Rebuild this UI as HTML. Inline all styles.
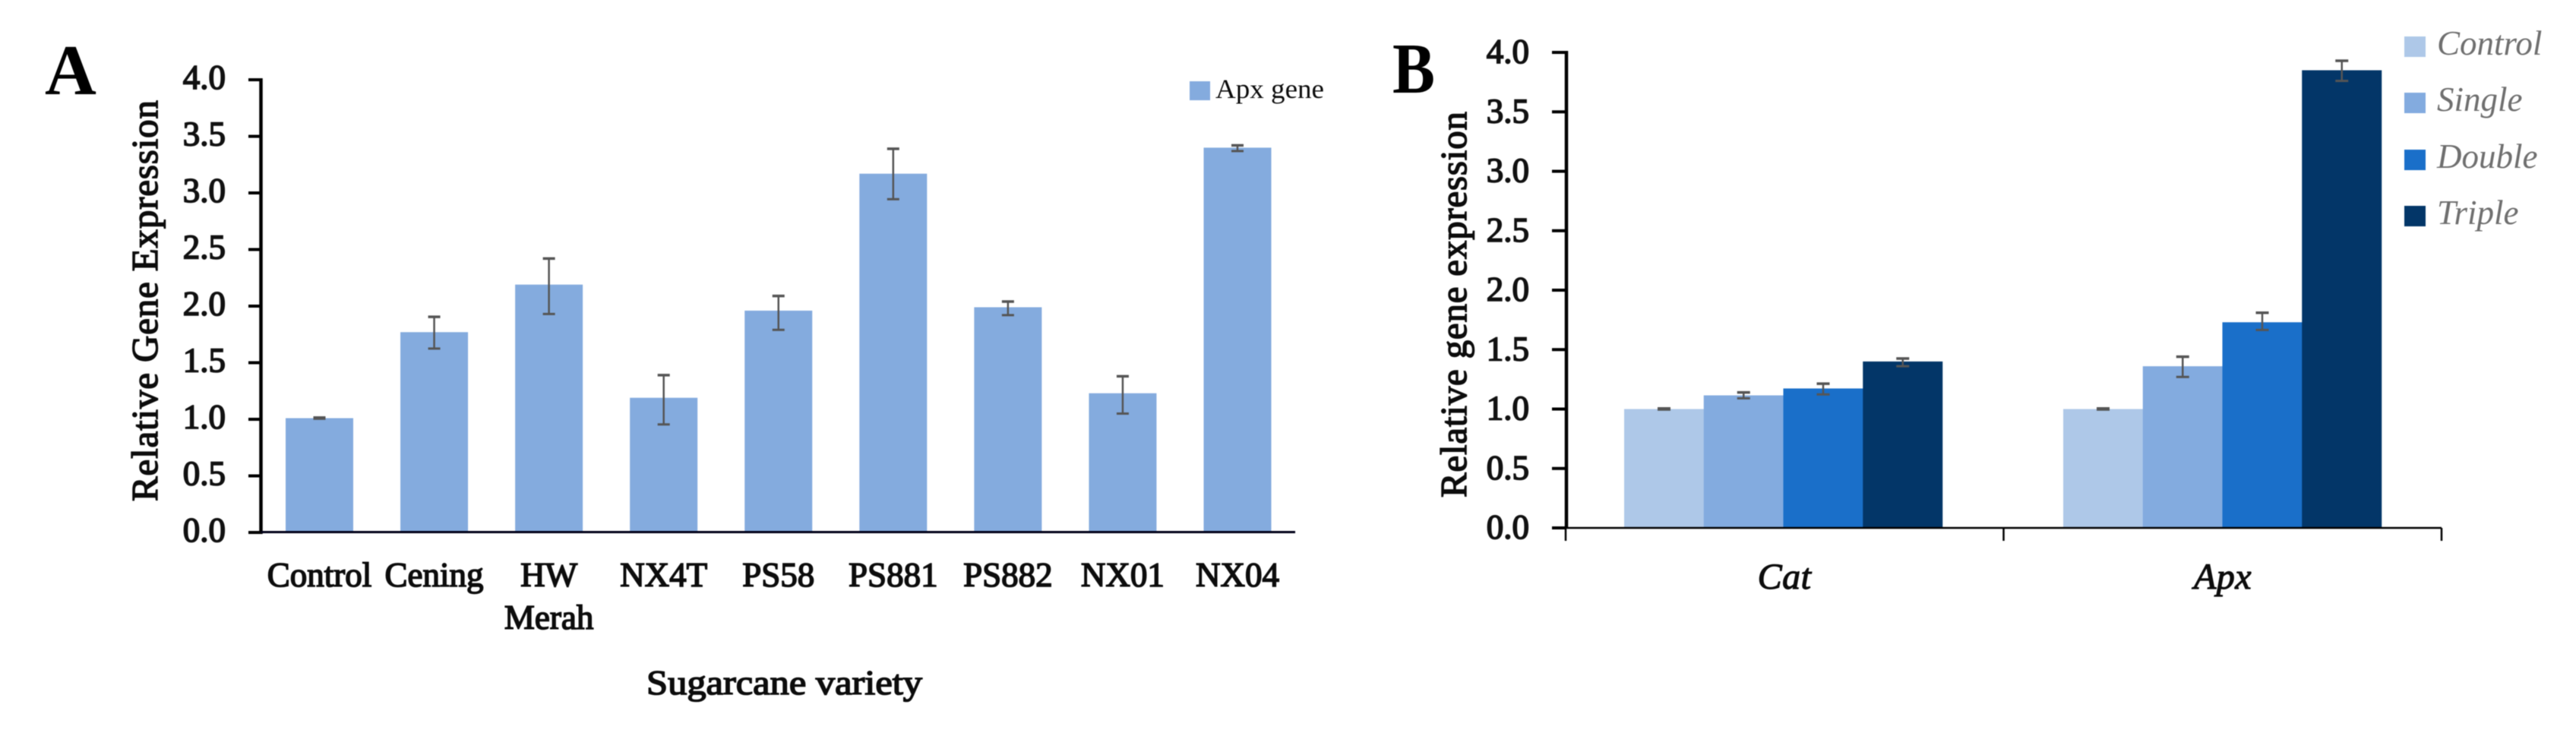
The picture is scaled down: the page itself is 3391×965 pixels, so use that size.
<!DOCTYPE html>
<html lang="en">
<head>
<meta charset="utf-8">
<title>Relative gene expression charts</title>
<style>
html,body{margin:0;padding:0;background:#fff;}
body{width:3391px;height:965px;overflow:hidden;}
svg{display:block;position:absolute;left:0;top:0;filter:blur(0.6px);}
text{font-family:"Liberation Serif",serif;fill:#0c0c0c;}
.tick{font-size:45px;text-anchor:end;fill:#111;stroke:#111;stroke-width:1.7px;}
.cat{font-size:45px;text-anchor:middle;stroke:#0c0c0c;stroke-width:1.6px;}
.xname{font-size:46px;stroke:#0c0c0c;stroke-width:1.6px;}
.title{font-size:49px;stroke:#0c0c0c;stroke-width:1.5px;}
.letter{font-size:94px;font-weight:bold;fill:#000;}
.leg-b{font-size:45px;font-style:italic;fill:#6f6f6f;}
.gene{font-size:48px;font-style:italic;text-anchor:middle;letter-spacing:0.5px;stroke:#0c0c0c;stroke-width:1.2px;}
</style>
</head>
<body>
<svg id="chart" xmlns="http://www.w3.org/2000/svg" width="3391" height="965" viewBox="0 0 3391 965">
  <rect x="0" y="0" width="3391" height="965" fill="#ffffff"/>
  <g id="panel-a">
    <text class="letter" x="59" y="124">A</text>
    <text class="title" transform="translate(207 660) rotate(-90)" textLength="528" lengthAdjust="spacing">Relative Gene Expression</text>
    <text class="xname" x="851" y="914" textLength="363" lengthAdjust="spacingAndGlyphs">Sugarcane variety</text>
    <rect x="1566" y="107" width="27" height="25" fill="#84abde"/>
    <text x="1600" y="129" font-size="36" fill="#222" textLength="143" lengthAdjust="spacingAndGlyphs">Apx gene</text>
  </g>
  <g id="panel-b">
    <text class="letter" x="1833" y="122" textLength="56" lengthAdjust="spacingAndGlyphs">B</text>
    <text class="title" transform="translate(1930 655) rotate(-90)" textLength="508" lengthAdjust="spacing">Relative gene expression</text>
  </g>
</svg>
<script>
// Panel A data
const varieties = ['Control', 'Cening', 'HW|Merah', 'NX4T', 'PS58', 'PS881', 'PS882', 'NX01', 'NX04'];
const apxValues = [1.01, 1.77, 2.19, 1.19, 1.96, 3.17, 1.99, 1.23, 3.40];
const apxErrPlus = [0.005, 0.135, 0.23, 0.20, 0.13, 0.22, 0.05, 0.15, 0.02];
const apxErrMinus = [0.005, 0.145, 0.26, 0.235, 0.17, 0.225, 0.07, 0.18, 0.03];
const yTickValues = [0, 0.5, 1, 1.5, 2, 2.5, 3, 3.5, 4];
const yTickLabels = ['0.0', '0.5', '1.0', '1.5', '2.0', '2.5', '3.0', '3.5', '4.0'];

// Panel B data
const genes = ['Cat', 'Apx'];
const treatments = ['Control', 'Single', 'Double', 'Triple'];
const controlValues = [1.00, 1.00];
const singleValues = [1.115, 1.36];
const doubleValues = [1.173, 1.73];
const tripleValues = [1.40, 3.85];
const controlErrPlus = [0.005, 0.005];
const singleErrPlus = [0.025, 0.08];
const doubleErrPlus = [0.04, 0.08];
const tripleErrPlus = [0.025, 0.08];
const controlErrMinus = [0.005, 0.005];
const singleErrMinus = [0.025, 0.09];
const doubleErrMinus = [0.05, 0.065];
const tripleErrMinus = [0.04, 0.09];

const NS = 'http://www.w3.org/2000/svg';
const panelA = document.getElementById('panel-a');
const panelB = document.getElementById('panel-b');

function make(tag, parent, props) {
  const el = document.createElementNS(NS, tag);
  for (const k in props) el.setAttribute(k, props[k]);
  parent.appendChild(el);
  return el;
}

// Axis functions
function yA(v) { return 701 - 149 * v; }
function xA(i) { return 420.5 + 151.06 * i; }
function yB(v) { return 695 - 156.5 * v; }
function xB(group, series) { return 2138 + 578 * group + 104.75 * series; }

const errColor = '#555555';

function drawError(parent, cx, hi, lo, capW, sw, name) {
  const g = make('g', parent, {});
  
  
  make('line', g, { x1: cx, x2: cx, y1: hi, y2: lo, stroke: errColor, 'stroke-width': sw });
  make('line', g, { x1: cx - capW / 2, x2: cx + capW / 2, y1: hi, y2: hi, stroke: errColor, 'stroke-width': 3.5 });
  make('line', g, { x1: cx - capW / 2, x2: cx + capW / 2, y1: lo, y2: lo, stroke: errColor, 'stroke-width': 3 });
}

// Panel A marks
apxValues.forEach(function (v, i) {
  const bar = make('rect', panelA, { x: xA(i) - 44.5, y: yA(v), width: 89, height: yA(0) - yA(v), fill: '#84abde' });
  
  
});
apxValues.forEach(function (v, i) {
  drawError(panelA, xA(i), yA(v + apxErrPlus[i]), yA(v - apxErrMinus[i]), 16, 2.5, 'error-bar-' + varieties[i].replace('|', '-').toLowerCase());
});

const axisAY = make('line', panelA, { x1: 343.5, x2: 343.5, y1: yA(4) - 2, y2: yA(0) + 2, stroke: '#000', 'stroke-width': 4.5 });


const axisAX = make('line', panelA, { x1: 343.5, x2: 1705, y1: yA(0) - 0.5, y2: yA(0) - 0.5, stroke: '#000018', 'stroke-width': 3 });



yTickValues.forEach(function (v, i) {
  const t = make('line', panelA, { x1: 327, x2: 343, y1: yA(v), y2: yA(v), stroke: '#000', 'stroke-width': 4 });
  
  
  const lab = make('text', panelA, { class: 'tick', x: 297, y: yA(v) + 12 });
  
  
  lab.textContent = yTickLabels[i];
});

varieties.forEach(function (name, i) {
  const lines = name.split('|');
  lines.forEach(function (line, j) {
    const lab = make('text', panelA, { class: 'cat', x: xA(i), y: 772 + 56 * j });
    
    
    lab.textContent = line;
  });
});

// Panel B marks
const seriesColors = ['#aec8e8', '#83abdf', '#1a6fc9', '#033668'];
const seriesValues = [controlValues, singleValues, doubleValues, tripleValues];
const seriesPlus = [controlErrPlus, singleErrPlus, doubleErrPlus, tripleErrPlus];
const seriesMinus = [controlErrMinus, singleErrMinus, doubleErrMinus, tripleErrMinus];
const legendRows = [48, 122, 197, 271];

seriesValues.forEach(function (vals, s) {
  vals.forEach(function (v, g) {
    const bar = make('rect', panelB, { x: xB(g, s), y: yB(v), width: 105, height: yB(0) - yB(v), fill: seriesColors[s] });
    
    
  });
});
seriesValues.forEach(function (vals, s) {
  vals.forEach(function (v, g) {
    drawError(panelB, xB(g, s) + 52.5, yB(v + seriesPlus[s][g]), yB(v - seriesMinus[s][g]), 17, 2.5, 'error-bar-' + genes[g].toLowerCase() + '-' + treatments[s].toLowerCase());
  });
});

const axisBY = make('line', panelB, { x1: 2062, x2: 2062, y1: yB(4) - 2, y2: yB(0) + 1, stroke: '#000', 'stroke-width': 4.5 });


const axisBX = make('line', panelB, { x1: 2060, x2: 3214, y1: yB(0), y2: yB(0), stroke: '#000', 'stroke-width': 2.5 });



[0, 1, 2].forEach(function (k) {
  const x = 2061 + 576.5 * k;
  const t = make('line', panelB, { x1: x, x2: x, y1: yB(0), y2: yB(0) + 17, stroke: '#000', 'stroke-width': 2.5 });
  
  
});

yTickValues.forEach(function (v, i) {
  const t = make('line', panelB, { x1: 2043, x2: 2061, y1: yB(v), y2: yB(v), stroke: '#000', 'stroke-width': 4 });
  
  
  const lab = make('text', panelB, { class: 'tick', x: 2013, y: yB(v) + 14 });
  
  
  lab.textContent = yTickLabels[i];
});

genes.forEach(function (name, g) {
  const lab = make('text', panelB, { class: 'gene', x: 2349 + 577 * g, y: 775 });
  
  
  lab.textContent = name;
});

treatments.forEach(function (name, s) {
  const sw = make('rect', panelB, { x: 3165, y: legendRows[s], width: 28, height: 27, fill: seriesColors[s] });
  
  
  const lab = make('text', panelB, { class: 'leg-b', x: 3208, y: legendRows[s] + 24 });
  
  
  lab.textContent = name;
});
</script>
</body>
</html>
